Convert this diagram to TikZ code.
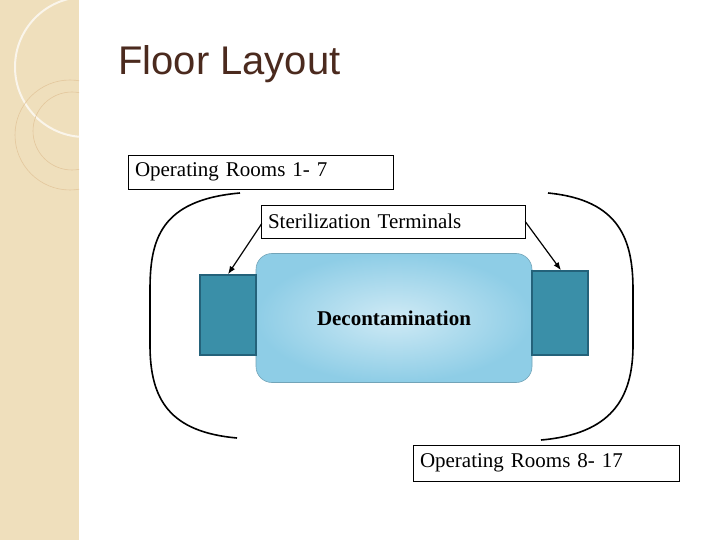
\documentclass[tikz,border=0pt]{standalone}
\usepackage{fontspec}
\setmainfont{Liberation Serif}
\newfontfamily\sansf{Liberation Sans}
\usetikzlibrary{arrows.meta}
\definecolor{side}{HTML}{EFDFBC}
\definecolor{titlec}{HTML}{4B2A1E}
\definecolor{teal}{HTML}{3A8FA8}
\definecolor{tealb}{HTML}{24627A}
\definecolor{decin}{HTML}{CFEAF5}
\definecolor{decout}{HTML}{8ECDE6}
\begin{document}
\begin{tikzpicture}[x=1pt,y=-1pt,
  lbl/.style={draw=black,fill=white,font=\fontsize{21}{24}\selectfont,inner xsep=7pt,inner ysep=0pt,align=left},
  sq/.style={draw=tealb,line width=1.5pt,fill=teal},
  br/.style={line width=1.6pt},
  arr/.style={line width=1.2pt,-{Latex[length=8pt,width=6pt]}}]
\useasboundingbox (0,0) rectangle (720,540);
\fill[white] (0,0) rectangle (720,540);
\fill[side] (0,0) rectangle (79,540);
\begin{scope}
\clip (0,0) rectangle (79,540);
\draw[white!70!side,line width=2pt] (85,67) circle[radius=70];
\draw[side!75!brown,line width=0.6pt] (70,135) circle[radius=55];
\draw[side!75!brown,line width=0.6pt] (72,131) circle[radius=39];
\end{scope}
\node[anchor=west,text=titlec,font=\sansf\fontsize{40}{44}\selectfont,inner sep=0pt] (title) at (118,64) {Floor Layout};
\node[lbl,text width=251pt,minimum height=34pt] (or1) at (260.5,172) {Operating Rooms 1- 7};
\node[lbl,text width=250pt,minimum height=33pt] (st) at (393,221.5) {Sterilization Terminals};
\node[draw=decout!80!black,line width=0.6pt,rounded corners=16pt,inner color=decin,outer color=decout,minimum width=276pt,minimum height=129pt,font=\bfseries\fontsize{21}{24}\selectfont] (dec) at (394,318) {Decontamination};
\node[sq,minimum width=56pt,minimum height=80pt,inner sep=0pt] (ls) at (228,315) {};
\node[sq,minimum width=56pt,minimum height=84pt,inner sep=0pt] (rs) at (560,313) {};
\node[lbl,text width=252pt,minimum height=36pt] (or2) at (546,463) {Operating Rooms 8- 17};
\draw[br] (240,193) .. controls (160,200) and (150,240) .. (150,290) -- (150,345) .. controls (150,400) and (170,432) .. (237,438);
\draw[br] (548,193) .. controls (620,200) and (633,240) .. (633,290) -- (633,345) .. controls (633,400) and (610,434) .. (541,440);
\draw[arr] (st.west) ++(1,2) -- (ls.north);
\draw[arr] (st.east) -- ([xshift=1pt]rs.north);
\end{tikzpicture}
\end{document}
